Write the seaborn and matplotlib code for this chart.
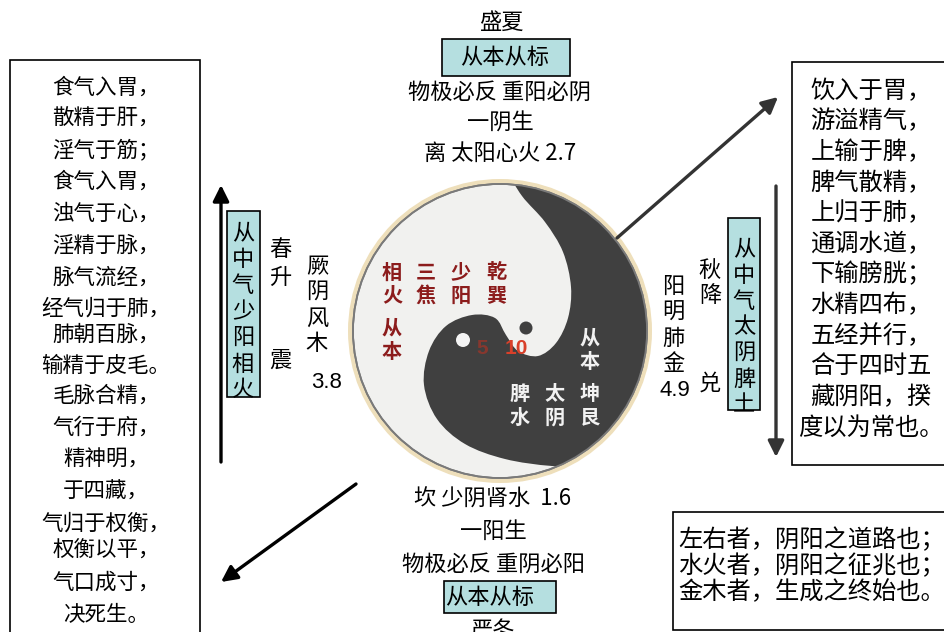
import numpy as np
import matplotlib
matplotlib.use("Agg")
import matplotlib.pyplot as plt
import seaborn as sns
from matplotlib.patches import Circle, Rectangle, PathPatch, FancyArrowPatch
from matplotlib.path import Path

sns.set_theme(style="white")
plt.rcParams['font.family'] = ['Noto Sans CJK SC', 'DejaVu Sans']

# ---------------- content ----------------
top_season = "盛夏"
bottom_season = "严冬"
top_box = "从本从标"
bottom_box = "从本从标"
top_lines = ["物极必反 重阳必阴", "一阴生", "离 太阳心火 2.7"]
bottom_lines = ["坎 少阴肾水  1.6", "一阳生", "物极必反 重阴必阳"]
left_label = "从中气少阳相火"
right_label = "从中气太阴脾土"
left_season, left_trigram, left_organ, left_value = "春升", "震", "厥阴风木", "3.8"
right_season, right_trigram, right_organ, right_value = "秋降", "兑", "阳明肺金", "4.9"
center_values = ["5", "10"]
red_cols = ["相火", "三焦", "少阳", "乾巽"]
red_sub = "从本"
white_cols = ["脾水", "太阴", "坤艮"]
white_sub = "从本"

left_text = ["食气入胃，", "散精于肝，", "淫气于筋；", "食气入胃，", "浊气于心，",
             "淫精于脉，", "脉气流经，", "经气归于肺，", "肺朝百脉，", "输精于皮毛。",
             "毛脉合精，", "气行于府，", "精神明，", "于四藏，", "气归于权衡，",
             "权衡以平，", "气口成寸，", "决死生。"]
left_text_y = [88, 119, 150, 182, 214, 246, 278, 309, 335, 366,
               396, 428, 460, 492, 524, 551, 583, 615]
right_text = ["饮入于胃，", "游溢精气，", "上输于脾，", "脾气散精，", "上归于肺，",
              "通调水道，", "下输膀胱；", "水精四布，", "五经并行，", "合于四时五",
              "藏阴阳，揆", "度以为常也。"]
note_text = ["左右者，阴阳之道路也；", "水火者，阴阳之征兆也；", "金木者，生成之终始也。"]

BOX_FILL = "#b5dfe0"
DARK = "#404040"

# ---------------- canvas ----------------
fig = plt.figure(figsize=(9.45, 6.32), dpi=100)
ax = fig.add_axes([0, 0, 1, 1])
ax.set_xlim(0, 945)
ax.set_ylim(632, 0)
ax.axis('off')
sns.despine(ax=ax, left=True, bottom=True)


def vtext(x, y0, step, s, **kw):
    out = []
    for i, ch in enumerate(s):
        out.append(ax.text(x, y0 + i * step, ch, ha='center', va='center', **kw))
    return out


def box(x0, y0, x1, y1, fc="white", lw=1.2):
    r = Rectangle((x0, y0), x1 - x0, y1 - y0, facecolor=fc, edgecolor="black", lw=lw, zorder=2)
    ax.add_patch(r)
    return r


def arrow(p0, p1, color, lw=2.4):
    a = FancyArrowPatch(p0, p1, arrowstyle="-|>,head_length=0.8,head_width=0.4",
                        mutation_scale=12, lw=lw, color=color, zorder=3,
                        shrinkA=0, shrinkB=0)
    ax.add_patch(a)

# ---------------- yin-yang ----------------
C = (500, 331)
ax.add_patch(Circle(C, 152, facecolor="#eedfbb", edgecolor="none", zorder=1))
disk = Circle(C, 147, facecolor="#f1f1ef", edgecolor="#7a7a7a", lw=1.3, zorder=1.5)
ax.add_patch(disk)

inner = [(645, 478), (595, 466), (552, 466), (505, 459), (465, 444), (437, 419),
         (424, 385), (429, 351), (446, 326), (472, 315), (495, 318), (506, 335),
         (518, 351), (538, 356), (556, 343), (568, 318), (571, 287), (563, 252),
         (545, 222), (522, 196), (505, 168)]
pts = np.asarray(inner, float)
verts = [pts[0]]
codes = [Path.MOVETO]
for i in range(len(pts) - 1):
    p0 = pts[max(i - 1, 0)]
    p1 = pts[i]
    p2 = pts[i + 1]
    p3 = pts[min(i + 2, len(pts) - 1)]
    verts += [p1 + (p2 - p0) / 6, p2 - (p3 - p1) / 6, p2]
    codes += [Path.CURVE4] * 3
for p in [(505, 140), (720, 140), (720, 530), (645, 530), (645, 478)]:
    verts.append(np.array(p, float))
    codes.append(Path.LINETO)
dark = PathPatch(Path(verts, codes), facecolor=DARK, edgecolor="none", zorder=1.6)
ax.add_patch(dark)
dark.set_clip_path(disk)
ax.add_patch(Circle(C, 147, facecolor="none", edgecolor="#7a7a7a", lw=1.3, zorder=1.7))

ax.add_patch(Circle((463, 340), 7, facecolor="#f4f4f4", edgecolor="none", zorder=1.8))
ax.add_patch(Circle((526, 328), 6.5, facecolor=DARK, edgecolor="none", zorder=1.8))

red = "#8c1c1c"
for x, col in zip([392, 426, 461, 496], red_cols):
    vtext(x, 272, 23, col, fontsize=14.5, fontweight='bold', color=red, zorder=2)
vtext(392, 328, 23, red_sub, fontsize=14.5, fontweight='bold', color=red, zorder=2)
for x, col in zip([520, 555, 590], white_cols):
    vtext(x, 393, 24, col, fontsize=14.5, fontweight='bold', color="#f2f2f2", zorder=2)
vtext(590, 338, 23, white_sub, fontsize=14.5, fontweight='bold', color="#f2f2f2", zorder=2)
ax.text(482, 348, center_values[0], ha='center', va='center', fontsize=15, fontweight='bold',
        color="#b83222", alpha=0.6, family='Liberation Sans', zorder=2)
ax.text(516, 348, center_values[1], ha='center', va='center', fontsize=15, fontweight='bold',
        color="#d9402a", family='Liberation Sans', zorder=2)

# ---------------- top / bottom ----------------
FS = 16
ax.text(501, 22, top_season, ha='center', va='center', fontsize=FS, color="black")
box(442, 39, 570, 76, fc=BOX_FILL)
ax.text(505, 57, top_box, ha='center', va='center', fontsize=FS, color="black", zorder=3)
for y, s in zip([92, 123, 153], top_lines):
    ax.text(500, y, s, ha='center', va='center', fontsize=FS, color="black")

for y, s in zip([499, 531, 564], bottom_lines):
    ax.text(493, y, s, ha='center', va='center', fontsize=FS, color="black")
box(444, 581, 556, 613, fc=BOX_FILL)
ax.text(490, 597, bottom_box, ha='center', va='center', fontsize=FS, color="black", zorder=3)
ax.text(493, 631, bottom_season, ha='center', va='center', fontsize=FS, color="black")

# ---------------- left side ----------------
arrow((221, 462), (221, 185), "black")
arrow((356, 484), (221, 582), "black")
lb = box(227, 211, 260, 397, fc=BOX_FILL)
vtext(243, 233, 26.2, left_label, fontsize=FS, color="black", zorder=3)
vtext(280, 250, 27, left_season, fontsize=FS, color="black")
vtext(280, 360, 27, left_trigram, fontsize=FS, color="black")
vtext(317, 267, 25.5, left_organ, fontsize=FS, color="black")
ax.text(327, 383, left_value, ha='center', va='center', fontsize=FS, color="black",
        family='Liberation Sans')

box(10, 60, 200, 700)
for y, s in zip(left_text_y, left_text):
    ax.text(106, y, s, ha='center', va='center', fontsize=15.5, color="black", zorder=3)

# ---------------- right side ----------------
arrow((617, 238), (778, 97), "#333333")
arrow((776, 186), (776, 457), "#333333")
rb = box(728, 218, 760, 410, fc=BOX_FILL)
ts = vtext(744, 249, 26, right_label, fontsize=FS, color="black", zorder=3)
for t in ts:
    t.set_clip_path(rb)
vtext(710, 270, 26, right_season, fontsize=FS, color="black")
vtext(710, 383, 26, right_trigram, fontsize=FS, color="black")
vtext(673, 286, 26, right_organ, fontsize=FS, color="black")
ax.text(675, 390, right_value, ha='center', va='center', fontsize=FS, color="black",
        family='Liberation Sans')

box(792, 62, 990, 465)
for i, s in enumerate(right_text):
    ax.text(871, 91 + i * 30.6, s, ha='center', va='center', fontsize=17.5, color="black", zorder=3)

box(673, 512, 990, 630)
ax.text(678, 566, "\n".join(note_text), ha='left', va='center', fontsize=17.5,
        linespacing=1.0, color="black", zorder=3)

fig.savefig("out.png", dpi=100)
